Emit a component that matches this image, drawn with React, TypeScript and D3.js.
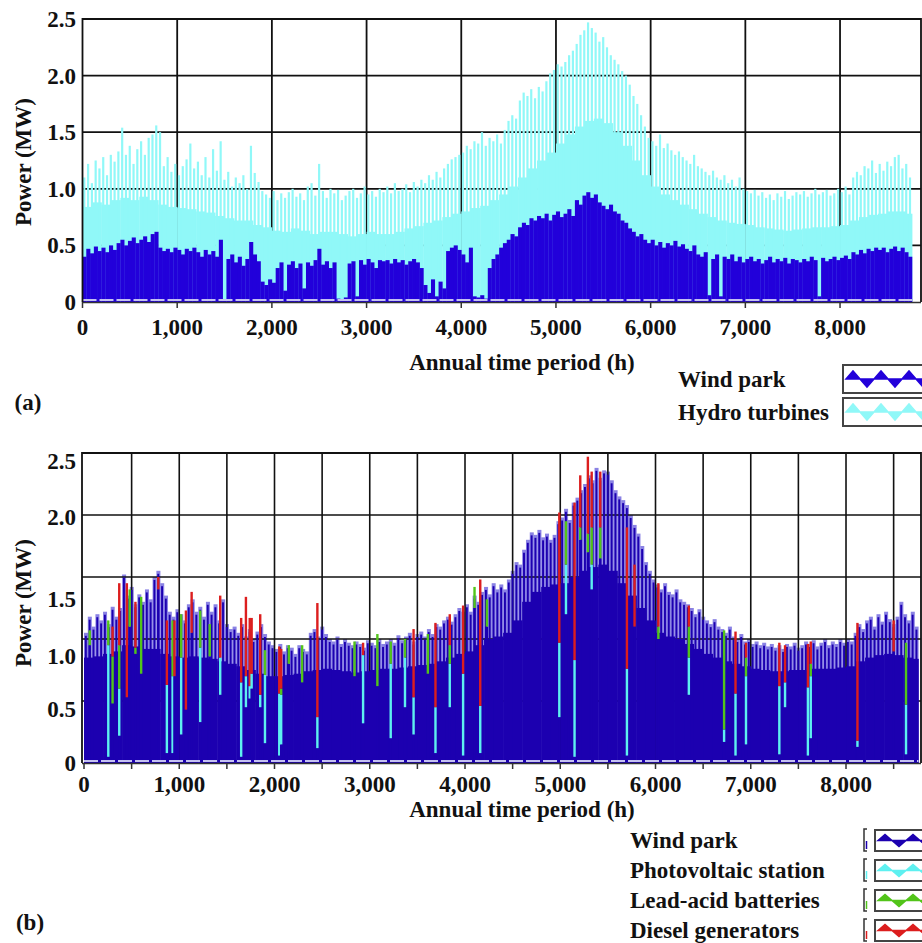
import { useEffect, useRef } from "react";
import * as d3 from "d3";

const BIN_HOURS = 40;
const FLOOR_HOURS = 100;
const YEAR_HOURS = 8760;

// (a) top of the hydro (cyan) spikes, MW
const hydroPeak = [
  1.1, 1.22, 1.05, 1.25, 1.18, 1.28, 1.12, 1.3, 1.24, 1.33,
  1.54, 1.3, 1.38, 1.22, 1.35, 1.42, 1.3, 1.45, 1.48, 1.56,
  1.5, 1.2, 1.28, 1.15, 1.22, 1.12, 1.2, 1.26, 1.4, 1.18,
  1.24, 1.12, 1.28, 1.1, 1.35, 1.16, 1.42, 1.08, 1.15, 1.02,
  1.1, 1.05, 1.12, 1.0, 1.38, 1.14, 1.06, 0.98, 0.95, 0.92,
  0.98, 0.9, 0.96, 0.92, 0.97, 1.0, 0.93, 0.96, 0.9, 1.02,
  1.05, 0.94, 1.22, 0.98, 0.92, 1.0, 0.96, 0.99, 0.9, 0.94,
  0.98, 1.0, 0.92, 0.96, 1.02, 0.95, 0.98, 0.93, 1.0, 0.97,
  1.02, 0.96, 1.05, 0.98, 1.0, 1.04, 0.97, 1.06, 1.02, 1.08,
  1.05, 1.12, 1.08, 1.15, 1.1, 1.18, 1.22, 1.26, 1.28, 1.3,
  1.32, 1.38, 1.35, 1.42, 1.4, 1.5, 1.38, 1.45, 1.42, 1.48,
  1.4, 1.52, 1.6, 1.65, 1.62, 1.78, 1.85, 1.82, 1.88, 1.8,
  1.9, 1.86, 1.95, 2.02, 2.05, 2.1, 2.08, 2.12, 2.18, 2.22,
  2.28, 2.36, 2.4, 2.47, 2.42, 2.38, 2.3, 2.34, 2.25, 2.18,
  2.14, 2.1, 2.04, 2.0, 1.92, 1.82, 1.75, 1.65, 1.55, 1.45,
  1.42, 1.38, 1.48, 1.36, 1.4, 1.34, 1.3, 1.33, 1.28, 1.25,
  1.22, 1.3, 1.2, 1.18, 1.15, 1.12, 1.16, 1.1, 1.08, 1.12,
  1.05, 1.08, 1.02, 1.1, 1.0, 0.98, 0.96, 0.99, 0.94, 0.97,
  0.92, 0.95, 0.9, 0.96, 0.93, 0.98, 0.91, 0.94, 0.97, 0.95,
  0.98, 0.93, 0.96, 1.0, 0.95, 0.97, 0.99, 0.94, 0.96, 1.0,
  0.97, 1.02, 0.95, 1.1, 1.15, 1.12, 1.2, 1.18, 1.25, 1.14,
  1.22, 1.16, 1.24, 1.2, 1.28, 1.3, 1.18, 1.22, 1.1,
];

// (a) solid part of the hydro band, MW
const hydroFloor = [
  0.84, 0.88, 0.86, 0.9, 0.92, 0.9, 0.93, 0.9, 0.86, 0.84,
  0.83, 0.82, 0.8, 0.79, 0.76, 0.74, 0.72, 0.72, 0.68, 0.66,
  0.63, 0.62, 0.65, 0.63, 0.6, 0.62, 0.62, 0.6, 0.58, 0.6,
  0.62, 0.6, 0.6, 0.62, 0.65, 0.67, 0.7, 0.72, 0.75, 0.78,
  0.8, 0.83, 0.85, 0.9, 0.95, 1.02, 1.1, 1.18, 1.25, 1.32,
  1.4, 1.48, 1.55, 1.6, 1.62, 1.58, 1.5, 1.38, 1.25, 1.12,
  1.02, 0.95, 0.9, 0.86, 0.82, 0.78, 0.75, 0.72, 0.7, 0.69,
  0.68, 0.66, 0.65, 0.64, 0.63, 0.64, 0.65, 0.66, 0.66, 0.67,
  0.68, 0.72, 0.75, 0.77, 0.78, 0.8, 0.8, 0.78,
];

// (a) wind park output, MW
const windA = [
  0.4, 0.47, 0.43, 0.49, 0.45, 0.48, 0.44, 0.5, 0.46, 0.52,
  0.55, 0.5, 0.54, 0.57, 0.52, 0.55, 0.58, 0.53, 0.6, 0.62,
  0.48, 0.45, 0.47, 0.44, 0.48, 0.46, 0.42, 0.47, 0.45, 0.48,
  0.44, 0.4, 0.46, 0.42, 0.45, 0.4, 0.55, 0.02, 0.38, 0.42,
  0.35, 0.4, 0.32, 0.38, 0.53, 0.42, 0.36, 0.18, 0.15, 0.2,
  0.17, 0.3, 0.35, 0.1, 0.33, 0.36, 0.3, 0.34, 0.12, 0.35,
  0.32, 0.37, 0.47, 0.33, 0.36, 0.3, 0.35, 0.03, 0.02, 0.04,
  0.34, 0.36, 0.05, 0.37, 0.33, 0.38, 0.35, 0.3, 0.37, 0.36,
  0.37, 0.34, 0.38, 0.35, 0.37, 0.33, 0.36, 0.38, 0.35, 0.3,
  0.15, 0.08, 0.2, 0.05, 0.18, 0.12, 0.45, 0.48, 0.5, 0.46,
  0.42, 0.35, 0.48, 0.05, 0.04, 0.06, 0.03, 0.3, 0.38, 0.42,
  0.48, 0.52, 0.55, 0.6, 0.58, 0.66, 0.7, 0.68, 0.74, 0.72,
  0.76, 0.74, 0.78, 0.72, 0.77, 0.8, 0.75, 0.78, 0.82, 0.76,
  0.9, 0.86, 0.94, 0.97, 0.92, 0.95, 0.88, 0.85, 0.82, 0.86,
  0.8, 0.78, 0.72, 0.7, 0.65, 0.62, 0.58, 0.6, 0.55, 0.52,
  0.55, 0.5, 0.53, 0.48, 0.52, 0.5, 0.54, 0.49, 0.51, 0.47,
  0.45, 0.5, 0.42, 0.4, 0.44, 0.06, 0.38, 0.42, 0.05, 0.4,
  0.38, 0.42, 0.36, 0.4, 0.35, 0.38, 0.4, 0.36, 0.38, 0.34,
  0.37, 0.4, 0.35, 0.38, 0.36, 0.39, 0.34, 0.38, 0.37, 0.35,
  0.38, 0.36, 0.4, 0.37, 0.05, 0.39, 0.36, 0.38, 0.4, 0.37,
  0.39, 0.41, 0.38, 0.44, 0.42, 0.46, 0.43, 0.47, 0.45, 0.48,
  0.46, 0.48, 0.44, 0.47, 0.49, 0.45, 0.48, 0.44, 0.4,
];

// (b) top of the wind park spikes, MW
const windTopB = [
  1.05, 1.18, 1.1, 1.2, 1.15, 1.22, 1.12, 1.26, 1.18, 1.25,
  1.52, 1.35, 1.42, 1.28, 1.36, 1.3, 1.4, 1.32, 1.5, 1.55,
  1.45, 1.35, 1.22, 1.18, 1.24, 1.2, 1.15, 1.28, 1.32, 1.22,
  1.26, 1.18, 1.3, 1.22, 1.28, 1.15, 1.32, 1.12, 1.08, 1.1,
  1.05, 1.12, 1.02, 1.08, 1.0, 1.06, 1.12, 1.04, 0.98, 0.95,
  0.92, 0.96, 0.9, 0.95, 0.93, 0.88, 0.95, 0.92, 0.9, 1.05,
  1.08, 1.02, 1.1, 1.04, 1.0, 0.98, 1.02, 0.96, 1.0, 0.97,
  0.95, 0.98, 0.96, 0.93, 0.99, 0.97, 0.95, 1.0, 0.96, 0.98,
  1.0, 0.97, 1.03, 0.99, 1.02, 1.05, 0.98, 1.04, 1.06, 1.02,
  1.08, 1.04, 1.12, 1.1, 1.15, 1.18, 1.14, 1.2, 1.25, 1.22,
  1.28, 1.22, 1.35, 1.3, 1.38, 1.42, 1.36, 1.45, 1.4, 1.44,
  1.4, 1.48, 1.55, 1.62, 1.6, 1.72, 1.8, 1.86, 1.84, 1.88,
  1.82, 1.85, 1.8, 1.84, 1.95, 1.98, 2.05, 1.96, 2.1, 2.14,
  2.2, 2.25, 2.32, 2.28, 2.38, 2.3, 2.36, 2.35, 2.28, 2.2,
  2.15, 2.12, 2.08, 2.0, 1.92, 1.85, 1.75, 1.62, 1.55, 1.48,
  1.44, 1.4, 1.45, 1.38, 1.36, 1.4, 1.32, 1.3, 1.28, 1.25,
  1.2, 1.24, 1.18, 1.15, 1.12, 1.16, 1.1, 1.08, 1.05, 1.1,
  1.02, 1.0, 1.04, 0.98, 1.0, 0.96, 0.98, 0.95, 0.97, 0.94,
  0.96, 0.93, 0.95, 0.92, 0.96, 0.94, 0.97, 0.93, 0.95, 0.98,
  0.96, 0.99, 0.94, 0.97, 1.0, 0.95, 0.98, 0.96, 1.0, 0.97,
  1.0, 0.98, 1.05, 1.12, 1.08, 1.15, 1.18, 1.1, 1.2, 1.14,
  1.22, 1.16, 1.12, 1.18, 1.3, 1.2, 1.15, 1.22, 1.1,
];

// (b) solid part of the wind park band, MW
const windFloorB = [
  0.85, 0.86, 0.88, 0.9, 0.95, 0.94, 0.92, 0.92, 0.88, 0.86,
  0.85, 0.86, 0.85, 0.84, 0.82, 0.8, 0.78, 0.75, 0.72, 0.7,
  0.7, 0.71, 0.72, 0.74, 0.75, 0.76, 0.75, 0.74, 0.73, 0.74,
  0.75, 0.76, 0.76, 0.77, 0.78, 0.79, 0.8, 0.82, 0.85, 0.88,
  0.9, 0.95, 1.0, 1.02, 1.05, 1.15, 1.3, 1.38, 1.42, 1.44,
  1.45, 1.5, 1.55, 1.58, 1.6, 1.55, 1.45, 1.35, 1.25, 1.15,
  1.05, 1.02, 1.0, 0.96, 0.92, 0.88, 0.85, 0.82, 0.8, 0.78,
  0.76, 0.75, 0.74, 0.74, 0.75, 0.75, 0.76, 0.76, 0.76, 0.77,
  0.78, 0.82, 0.85, 0.87, 0.88, 0.87, 0.85, 0.84,
];

// (b) hours where PV, batteries or diesel show in the stack
const eventHour = [
  60, 255, 300, 370, 450, 480, 540, 600, 780, 870,
  930, 950, 1020, 1070, 1130, 1220, 1320, 1430, 1650, 1700,
  1740, 1760, 1850, 1900, 2050, 2070, 2150, 2290, 2450, 2840,
  2930, 3080, 3220, 3370, 3460, 3610, 3690, 3840, 3980, 4100,
  4160, 4230, 4990, 5060, 5150, 5210, 5290, 5330, 5420, 5700,
  5780, 6030, 6350, 6720, 6840, 6950, 7300, 7360, 7600, 7630,
  8120, 8500, 8630,
];
const eventWind = [
  0.95, 0.05, 0.48, 0.22, 0.53, 1.1, 0.88, 0.72, 1.4, 0.08,
  0.08, 0.7, 0.23, 0.43, 1.05, 0.33, 0.86, 0.55, 0.05, 0.45,
  0.52, 0.6, 0.45, 0.16, 0.06, 0.15, 0.8, 0.65, 0.12, 0.7,
  0.32, 0.62, 0.2, 0.45, 0.23, 0.72, 0.08, 0.45, 0.06, 1.25,
  0.08, 1.1, 0.37, 1.2, 0.05, 1.8, 1.7, 1.4, 1.65, 0.06,
  1.1, 1.0, 0.55, 0.17, 0.06, 0.15, 0.07, 0.45, 0.06, 0.2,
  0.13, 0.9, 0.07,
];
const eventPv = [
  0, 0.9, 0, 0.38, 0, 0, 0, 0, 0, 0.55,
  0.62, 0, 0.62, 0, 0, 0.6, 0, 0.3, 0.6, 0.25,
  0.1, 0.12, 0.1, 0.55, 0.5, 0.4, 0, 0, 0.25, 0,
  0.55, 0, 0.6, 0.4, 0.3, 0, 0.37, 0.35, 0.66, 0,
  0.38, 0, 0.6, 0.4, 0.78, 0, 0, 0.2, 0, 0.7,
  0, 0, 0.3, 0.1, 0.5, 0.55, 0.55, 0.2, 0.55, 0.5,
  0.05, 0, 0.4,
];
const eventBattery = [
  0.12, 0.2, 0.38, 0.35, 0, 0.3, 0.05, 0.62, 0, 0,
  0.45, 0, 0.35, 0, 0, 0.3, 0.26, 0, 0, 0,
  0, 0, 0, 0.2, 0, 0.05, 0.15, 0.3, 0, 0.28,
  0, 0.42, 0.18, 0.15, 0, 0.32, 0, 0.15, 0, 0.17,
  0, 0.22, 0, 0.35, 0, 0.1, 0.15, 0.3, 0.25, 0,
  0, 0.1, 0.25, 0.8, 0, 0.15, 0, 0, 0, 0.1,
  0, 0, 0.5,
];
const eventDiesel = [
  0, 0, 0.24, 0.5, 0.92, 0, 0.37, 0, 0.1, 0.52,
  0, 0.45, 0, 0.8, 0.33, 0, 0, 0.5, 0.52, 0.64,
  0.55, 0.45, 0.65, 0, 0.38, 0.32, 0, 0, 0.92, 0,
  0.1, 0, 0, 0, 0.55, 0, 0.68, 0.25, 0.55, 0,
  1.02, 0, 1.05, 0, 1.27, 0.42, 0.62, 0.45, 0.45, 1.14,
  0.5, 0.35, 0.17, 0, 0.5, 0.12, 0.35, 0.3, 0.35, 0.18,
  0.95, 0.25, 0,
];

const powerTicks = [0, 0.5, 1, 1.5, 2, 2.5];
const hourLabels = [0, 1000, 2000, 3000, 4000, 5000, 6000, 7000, 8000];
const legendA = ["Wind park", "Hydro turbines"];
const legendB = [
  "Wind park",
  "Photovoltaic station",
  "Lead-acid batteries",
  "Diesel generators",
];

const FONT = "'Liberation Serif', 'Times New Roman', serif";
const CYAN = "#90f8f8";
const WIND_A = "#2200da";
const WIND_B = "#1c00b0";
const SPIKE_B = "#8a82e4";
const PV_B = "#5ef0f0";
const GREEN = "#52c41a";
const RED = "#dc1e1e";

const fmtPower = (v: number) => (v === 0 ? "0" : v.toFixed(1));
const fmtHour = d3.format(",");

export default function App() {
  const svgRef = useRef<SVGSVGElement | null>(null);

  useEffect(() => {
    const svg = d3.select(svgRef.current);
    svg.selectAll("*").remove();

    const rightEdge = 921;

    const text = (
      g: any,
      x: number,
      y: number,
      s: string,
      anchor = "middle"
    ) =>
      g
        .append("text")
        .attr("x", x)
        .attr("y", y)
        .attr("dy", "0.35em")
        .attr("text-anchor", anchor)
        .attr("font-family", FONT)
        .attr("font-weight", "bold")
        .attr("font-size", 23)
        .attr("fill", "#111")
        .text(s);

    const zigzag = (
      g: any,
      bx: number,
      by: number,
      bw: number,
      bh: number,
      color: string,
      amp: number
    ) => {
      const mid = by + bh / 2;
      const pts: [number, number][] = [[bx + 3, mid]];
      let up = true;
      for (let x = bx + 10; x < bx + bw + 14; x += 14) {
        pts.push([x, up ? mid - amp : mid + amp]);
        up = !up;
      }
      const last = pts[pts.length - 1][0];
      pts.push([last, mid]);
      g.append("rect")
        .attr("x", bx)
        .attr("y", by)
        .attr("width", bw)
        .attr("height", bh)
        .attr("fill", "#fff")
        .attr("stroke", "#444")
        .attr("stroke-width", 2);
      g.append("path")
        .attr("d", "M" + pts.map((p) => p.join(",")).join("L") + "Z")
        .attr("fill", color)
        .attr("stroke", color)
        .attr("stroke-width", 1.5);
    };

    const floorWidth = (x: any) => (_: number, i: number) =>
      x(Math.min((i + 1) * FLOOR_HOURS, YEAR_HOURS)) -
      x(i * FLOOR_HOURS) +
      0.4;

    // ---------- panel (a) ----------
    const xA = d3.scaleLinear().domain([0, YEAR_HOURS]).range([82.5, 912]);
    const yA = d3.scaleLinear().domain([0, 2.5]).range([302, 19]);
    const gA = svg.append("g");
    const binA = xA(BIN_HOURS) - xA(0);

    gA.selectAll("line.v")
      .data(hourLabels.slice(1))
      .join("line")
      .attr("x1", (d) => xA(d))
      .attr("x2", (d) => xA(d))
      .attr("y1", yA(2.5))
      .attr("y2", yA(0))
      .attr("stroke", "#111")
      .attr("stroke-width", 1.8);
    gA.selectAll("line.h")
      .data(powerTicks.slice(1, 5))
      .join("line")
      .attr("x1", xA(0))
      .attr("x2", rightEdge)
      .attr("y1", (d) => yA(d))
      .attr("y2", (d) => yA(d))
      .attr("stroke", "#111")
      .attr("stroke-width", 1.8);

    gA.append("g")
      .selectAll("rect")
      .data(hydroFloor)
      .join("rect")
      .attr("x", (_, i) => xA(i * FLOOR_HOURS))
      .attr("width", floorWidth(xA))
      .attr("y", (d) => yA(d))
      .attr("height", (d) => yA(0) - yA(d))
      .attr("fill", CYAN);

    gA.append("g")
      .selectAll("rect")
      .data(hydroPeak)
      .join("rect")
      .attr("x", (_, i) => xA(i * BIN_HOURS) + 0.7)
      .attr("width", binA - 1.6)
      .attr("y", (d) => yA(d))
      .attr("height", (d) => yA(0) - yA(d))
      .attr("fill", CYAN);

    gA.append("g")
      .selectAll("rect")
      .data(windA)
      .join("rect")
      .attr("x", (_, i) => xA(i * BIN_HOURS))
      .attr("width", binA + 0.3)
      .attr("y", (d) => yA(d))
      .attr("height", (d) => yA(0) - yA(d))
      .attr("fill", WIND_A);

    gA.append("line")
      .attr("x1", xA(0))
      .attr("x2", xA(YEAR_HOURS))
      .attr("y1", yA(0) - 2)
      .attr("y2", yA(0) - 2)
      .attr("stroke", "#c4c0f2")
      .attr("stroke-width", 2)
      .attr("stroke-dasharray", "14 3");

    // frame
    gA.append("path")
      .attr("d", `M${xA(0)},${yA(0)}V${yA(2.5)}H${rightEdge}V${yA(0)}`)
      .attr("fill", "none")
      .attr("stroke", "#111")
      .attr("stroke-width", 1.8);
    gA.append("line")
      .attr("x1", xA(0))
      .attr("x2", rightEdge)
      .attr("y1", yA(0) + 0.5)
      .attr("y2", yA(0) + 0.5)
      .attr("stroke", "#333")
      .attr("stroke-width", 1.5);
    gA.selectAll("line.t")
      .data(hourLabels)
      .join("line")
      .attr("x1", (d) => xA(d))
      .attr("x2", (d) => xA(d))
      .attr("y1", yA(0))
      .attr("y2", yA(0) + 6)
      .attr("stroke", "#333")
      .attr("stroke-width", 1.5);

    hourLabels.forEach((h) => text(gA, xA(h), 327, fmtHour(h)));
    powerTicks.forEach((v) => text(gA, 76, yA(v), fmtPower(v), "end"));
    text(gA, 522, 362, "Annual time period (h)");
    text(gA, 28, 402, "(a)");
    text(gA, 23, 162, "Power (MW)").attr("transform", "rotate(-90, 23, 162)");

    legendA.forEach((name, i) => {
      const cy = 379 + i * 33;
      text(gA, 678, cy, name, "start");
      zigzag(gA, 843, cy - 14, 90, 28, i === 0 ? WIND_A : CYAN, 8);
    });

    // ---------- panel (b) ----------
    const xB = d3.scaleLinear().domain([0, YEAR_HOURS]).range([84, 918.4]);
    const yB = d3.scaleLinear().domain([0, 2.5]).range([763, 453]);
    // the printed tick labels of (b) do not sit on the grid rows
    const labelB = d3
      .scaleLinear()
      .domain(powerTicks)
      .range([763, 709, 656, 599, 517, 461]);
    const gB = svg.append("g");
    const binB = xB(BIN_HOURS) - xB(0);

    gB.append("g")
      .selectAll("rect")
      .data(windTopB)
      .join("rect")
      .attr("x", (_, i) => xB(i * BIN_HOURS))
      .attr("width", binB + 0.2)
      .attr("y", (d) => yB(d))
      .attr("height", (d) => yB(0) - yB(d))
      .attr("fill", SPIKE_B);

    // grid sits over the pale spike tips but under the dark body
    const gridHours = d3.range(500, 9000, 500);
    gB.selectAll("line.v")
      .data(gridHours)
      .join("line")
      .attr("x1", (d) => xB(d))
      .attr("x2", (d) => xB(d))
      .attr("y1", yB(2.5))
      .attr("y2", yB(0))
      .attr("stroke", "#111")
      .attr("stroke-width", 1.6);
    gB.selectAll("line.h")
      .data(powerTicks.slice(1, 5))
      .join("line")
      .attr("x1", 82)
      .attr("x2", rightEdge)
      .attr("y1", (d) => yB(d))
      .attr("y2", (d) => yB(d))
      .attr("stroke", "#111")
      .attr("stroke-width", 1.6);

    gB.append("g")
      .selectAll("rect")
      .data(windTopB)
      .join("rect")
      .attr("x", (_, i) => xB(i * BIN_HOURS) + 0.9)
      .attr("width", 1.9)
      .attr("y", (d) => yB(d) + 3)
      .attr("height", (d) => Math.max(0, yB(0) - yB(d) - 3))
      .attr("fill", WIND_B);

    gB.append("g")
      .selectAll("rect")
      .data(windFloorB)
      .join("rect")
      .attr("x", (_, i) => xB(i * FLOOR_HOURS))
      .attr("width", floorWidth(xB))
      .attr("y", (d) => yB(d))
      .attr("height", (d) => yB(0) - yB(d))
      .attr("fill", WIND_B);

    const events = eventHour.map((h, i) => ({
      h,
      parts: [
        { v: eventWind[i], c: WIND_B },
        { v: eventPv[i], c: PV_B },
        { v: eventBattery[i], c: GREEN },
        { v: eventDiesel[i], c: RED },
      ],
    }));
    const ev = gB.append("g");
    events.forEach((e) => {
      let base = 0;
      e.parts.forEach((p) => {
        if (p.v > 0) {
          ev.append("rect")
            .attr("x", xB(e.h) - 1.2)
            .attr("width", 2.4)
            .attr("y", yB(base + p.v))
            .attr("height", yB(base) - yB(base + p.v))
            .attr("fill", p.c);
        }
        base += p.v;
      });
    });

    gB.append("line")
      .attr("x1", xB(0))
      .attr("x2", xB(YEAR_HOURS))
      .attr("y1", yB(0) - 2)
      .attr("y2", yB(0) - 2)
      .attr("stroke", "#c4c0f2")
      .attr("stroke-width", 2)
      .attr("stroke-dasharray", "14 3");

    gB.append("path")
      .attr("d", `M82,${yB(0)}V${yB(2.5)}H${rightEdge}V${yB(0)}`)
      .attr("fill", "none")
      .attr("stroke", "#111")
      .attr("stroke-width", 1.8);
    gB.append("line")
      .attr("x1", 82)
      .attr("x2", rightEdge)
      .attr("y1", yB(0) + 0.5)
      .attr("y2", yB(0) + 0.5)
      .attr("stroke", "#333")
      .attr("stroke-width", 1.5);
    gB.selectAll("line.t")
      .data([0, ...gridHours])
      .join("line")
      .attr("x1", (d) => xB(d))
      .attr("x2", (d) => xB(d))
      .attr("y1", yB(0))
      .attr("y2", yB(0) + 6)
      .attr("stroke", "#333")
      .attr("stroke-width", 1.5);

    hourLabels.forEach((h) => text(gB, xB(h), 784, fmtHour(h)));
    powerTicks.forEach((v) => text(gB, 76, labelB(v), fmtPower(v), "end"));
    text(gB, 522, 809, "Annual time period (h)");
    text(gB, 30, 922, "(b)");
    text(gB, 23, 603, "Power (MW)").attr("transform", "rotate(-90, 23, 603)");

    const legendColors = [WIND_B, PV_B, GREEN, RED];
    legendB.forEach((name, i) => {
      const cy = 840 + i * 30;
      text(gB, 630, cy, name, "start");
      gB.append("path")
        .attr("d", `M867,${cy - 11}H864V${cy + 11}H867`)
        .attr("fill", "none")
        .attr("stroke", "#333")
        .attr("stroke-width", 1.5);
      gB.append("line")
        .attr("x1", 866.5)
        .attr("x2", 866.5)
        .attr("y1", cy + 1)
        .attr("y2", cy + 9)
        .attr("stroke", legendColors[i])
        .attr("stroke-width", 1.5);
      zigzag(gB, 875, cy - 10, 60, 21, legendColors[i], 6);
    });
  }, []);

  return (
    <svg
      ref={svgRef}
      width={922}
      height={943}
      viewBox="0 0 922 943"
      style={{ position: "absolute", left: 0, top: 0, background: "#fff" }}
    />
  );
}
